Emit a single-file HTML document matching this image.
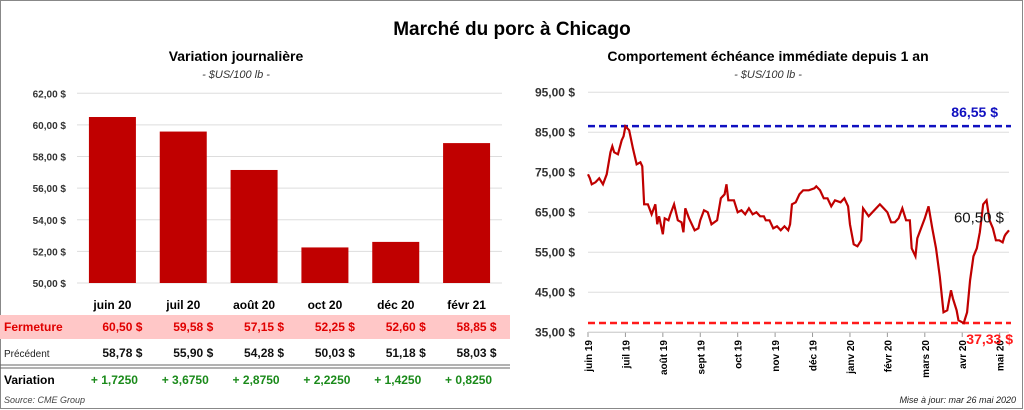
<!DOCTYPE html>
<html><head><meta charset="utf-8"><style>
body{margin:0;background:#fff;font-family:"Liberation Sans",sans-serif}
#wrap{position:relative;width:1024px;height:410px;overflow:hidden}
svg{position:absolute;left:0;top:0}
</style></head><body><div id="wrap">
<svg id="s" width="1024" height="410" xmlns="http://www.w3.org/2000/svg" font-family="Liberation Sans, sans-serif">
<rect x="0.5" y="0.5" width="1022" height="408" fill="#fff" stroke="#888"/>
<text x="512" y="35" text-anchor="middle" font-size="19" font-weight="bold">Marché du porc à Chicago</text>
<text x="236" y="61" text-anchor="middle" font-size="14" font-weight="bold">Variation  journalière</text>
<text x="236" y="78" text-anchor="middle" font-size="11" font-style="italic" fill="#333">- $US/100 lb -</text>
<text x="768" y="61" text-anchor="middle" font-size="14" font-weight="bold">Comportement  échéance immédiate depuis 1 an</text>
<text x="768" y="78" text-anchor="middle" font-size="11" font-style="italic" fill="#333">- $US/100 lb -</text>
<rect x="0" y="315" width="510" height="24" fill="#ffc7c7"/>
<line x1="0" y1="365" x2="510" y2="365" stroke="#666"/>
<line x1="0" y1="368" x2="510" y2="368" stroke="#666"/>
<text x="4" y="331" font-size="12" font-weight="bold" fill="#e00000">Fermeture</text>
<text x="4" y="357" font-size="10" fill="#222">Précédent</text>
<text x="4" y="384" font-size="12" font-weight="bold">Variation</text>
<text x="4" y="403" font-size="9" font-style="italic" fill="#444">Source: CME Group</text>
<text x="1016" y="403" text-anchor="end" font-size="9" font-style="italic" fill="#222">Mise à jour: mar 26 mai 2020</text>
<g id="left"></g><g id="right"></g>
</svg></div>
<script>
const cats=["juin 20","juil 20","août 20","oct 20","déc 20","févr 21"];
const closeVals=[60.50,59.58,57.15,52.25,52.60,58.85];
const prevVals=[58.78,55.90,54.28,50.03,51.18,58.03];
const varLabels=["+ 1,7250","+ 3,6750","+ 2,8750","+ 2,2250","+ 1,4250","+ 0,8250"];
const leftTicks=[50,52,54,56,58,60,62];
const monthLabels=["juin 19","juil 19","août 19","sept 19","oct 19","nov 19","déc 19","janv 20","févr 20","mars 20","avr 20","mai 20"];
const rightTicks=[35,45,55,65,75,85,95];
const t=[0,0.05,0.1,0.2,0.3,0.4,0.5,0.6,0.65,0.7,0.8,0.9,0.95,1.0,1.1,1.2,1.3,1.4,1.45,1.5,1.6,1.7,1.8,1.85,1.9,2.0,2.05,2.15,2.2,2.3,2.4,2.5,2.55,2.6,2.7,2.75,2.85,2.95,3.0,3.1,3.2,3.3,3.45,3.55,3.65,3.7,3.75,3.9,4.0,4.1,4.2,4.3,4.4,4.5,4.6,4.7,4.75,4.85,4.95,5.05,5.15,5.25,5.35,5.4,5.45,5.55,5.65,5.75,5.9,6.05,6.1,6.2,6.3,6.4,6.5,6.6,6.75,6.85,6.95,7.0,7.1,7.2,7.3,7.35,7.5,7.6,7.7,7.8,7.9,8.0,8.1,8.2,8.3,8.4,8.5,8.6,8.65,8.75,8.8,8.9,9.0,9.1,9.2,9.3,9.4,9.5,9.6,9.7,9.75,9.85,9.9,10.0,10.04,10.13,10.21,10.3,10.39,10.47,10.56,10.65,10.73,10.82,10.9,10.99,11.08,11.13,11.16,11.25];
const price=[74.5,73.5,72,72.5,73.5,72,74.5,80,81.5,80,79.5,83,84,86.5,85.5,81,77,77.5,76.5,67,67,64.5,67,62,64,59.5,63.5,63,64.5,67,63,62.5,60,66,63.5,62.5,60.5,61,63,65.5,65,62,63,68.5,69.5,72,68,68,65,65.5,64.5,66,64.5,65,64,64,63,63,61,61.5,60.5,61.5,60.5,62,67,67.5,69.5,70.5,70.5,71,71.5,70.5,68.5,68.5,66.5,68,67.5,68.5,66.5,62,57,56.5,58,66,64,65,66,67,66,65,62.5,62.5,63.5,66,63,63,56,54,58.5,61,63.5,66.5,61,56,49,40,40.5,45.5,43.5,40.5,38,37.5,37.3,40,48,54,56,60,67,68,63,61,58,58,57.5,59,59.5,60.5];
const maxV=86.55,minV=37.33,lastV=60.50;
const NS="http://www.w3.org/2000/svg";
function mk(tag,attrs,parent,txt){const e=document.createElementNS(NS,tag);for(const k in attrs)e.setAttribute(k,attrs[k]);if(txt!==undefined)e.textContent=txt;parent.appendChild(e);return e;}
const fmt=v=>v.toFixed(2).replace('.',',');
const L=document.getElementById('left');
const lx0=77,lx1=502,ly=v=>283-(v-50)/12*(283-93.3);const cw=(lx1-lx0)/cats.length;const cx=i=>lx0+cw*(i+0.5);
leftTicks.forEach(v=>{
const g=mk('line',{x1:lx0,x2:lx1,y1:ly(v),y2:ly(v),stroke:'#ddd'},L);

const tx=mk('text',{x:66,y:ly(v)+4,'text-anchor':'end','font-size':10,'font-weight':'bold',fill:'#333'},L,fmt(v)+' $');
});
cats.forEach((c,i)=>{
const b=mk('rect',{x:cx(i)-23.5,y:ly(closeVals[i]),width:47,height:283-ly(closeVals[i]),fill:'#c00000'},L);

const cl=mk('text',{x:cx(i),y:309,'text-anchor':'middle','font-size':12,'font-weight':'bold'},L,c);

const r=cx(i)+30;
const f=mk('text',{x:r,y:331,'text-anchor':'end','font-size':12,'font-weight':'bold',fill:'#e00000'},L,fmt(closeVals[i])+'  $');

const p=mk('text',{x:r,y:357,'text-anchor':'end','font-size':12,'font-weight':'bold',fill:'#111'},L,fmt(prevVals[i])+'  $');

const v=mk('text',{x:cx(i)+2,y:384,'text-anchor':'middle','font-size':12,'font-weight':'bold',fill:'#1a8a1a'},L,varLabels[i]);
});
const R=document.getElementById('right');
const rx0=588,rx1=1009,tMax=11.25,ry=v=>332.3-(v-35)/60*(332.3-92.3);const rx=m=>rx0+m/tMax*(rx1-rx0);
rightTicks.forEach(v=>{
const g=mk('line',{x1:rx0,x2:rx1,y1:ry(v),y2:ry(v),stroke:'#ddd'},R);

const tx=mk('text',{x:575,y:ry(v)+4,'text-anchor':'end','font-size':12,'font-weight':'bold',fill:'#333'},R,fmt(v)+' $');
});
monthLabels.forEach((m,i)=>{const x=rx(i);
const tk=mk('line',{x1:x,x2:x,y1:332,y2:337,stroke:'#999'},R);

const tx=mk('text',{transform:`translate(${x+4},340) rotate(-90)`,'text-anchor':'end','font-size':10,'font-weight':'bold'},R,m);
});
const ax=mk('line',{x1:rx0,x2:rx1,y1:332.3,y2:332.3,stroke:'#ccc'},R);

const hi=mk('line',{x1:rx0,x2:rx1+2,y1:ry(maxV),y2:ry(maxV),stroke:'#1010c0','stroke-width':2.5,'stroke-dasharray':'7 4'},R);

const lo=mk('line',{x1:rx0,x2:rx1+2,y1:ry(minV),y2:ry(minV),stroke:'#ff1a1a','stroke-width':2.5,'stroke-dasharray':'7 4'},R);

const pl=mk('polyline',{points:t.map((m,i)=>rx(m)+','+ry(price[i])).join(' '),fill:'none',stroke:'#c00000','stroke-width':2.2},R);

const a=mk('text',{x:998,y:ry(maxV)-9,'text-anchor':'end','font-size':14,'font-weight':'bold',fill:'#1010c0'},R,fmt(maxV)+' $');

const b=mk('text',{x:1013,y:ry(minV)+21,'text-anchor':'end','font-size':14,'font-weight':'bold',fill:'#ff1a1a'},R,fmt(minV)+' $');

const c=mk('text',{x:1004,y:ry(lastV)-8,'text-anchor':'end','font-size':15,fill:'#111'},R,fmt(lastV)+' $');

</script></body></html>
